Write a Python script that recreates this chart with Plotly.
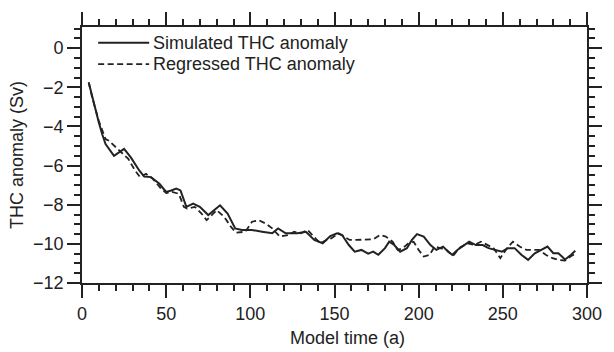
import plotly.graph_objects as go

# Simulated THC anomaly (solid)
sim_t = [4, 6, 8, 10, 12, 14, 19, 25, 29, 34,
         37, 41, 46, 50, 53, 56, 58.5, 62, 66, 70,
         75, 82, 86.5, 91, 95, 101, 107, 113, 116.5, 121,
         128, 133, 138, 143, 147.5, 151.5, 154.5, 158.5, 162, 166,
         170, 173, 176, 180, 182.5, 185.5, 189, 193, 196, 199,
         203, 207, 210.5, 214.5, 217.5, 220, 223, 226, 230, 234,
         238, 241.5, 245.5, 249.5, 253, 257, 261, 265, 269, 272.5,
         276.5, 280, 283, 287, 290, 293]
sim_v = [-1.75, -2.45, -3.2, -3.8, -4.4, -4.9, -5.5, -5.15, -5.58, -6.25,
         -6.56, -6.59, -6.93, -7.35, -7.27, -7.18, -7.27, -8.11, -7.94, -8.11,
         -8.53, -8.03, -8.45, -9.21, -9.29, -9.29, -9.38, -9.46, -9.21, -9.46,
         -9.46, -9.38, -9.8, -9.97, -9.6, -9.46, -9.55, -10.06, -10.4, -10.31,
         -10.5, -10.4, -10.56, -10.22, -9.89, -10.06, -10.4, -10.22, -9.8, -9.5,
         -9.63, -10.06, -10.31, -10.14, -10.4, -10.56, -10.31, -10.14, -9.89, -10.06,
         -10.06, -10.22, -10.31, -10.4, -10.22, -10.22, -10.56, -10.82, -10.48, -10.31,
         -10.14, -10.48, -10.48, -10.8, -10.6, -10.35]

# Regressed THC anomaly (dashed)
reg_t = [4, 6, 10, 14, 16, 20, 23.5, 27.5, 31.5, 34.5,
         38, 42, 47, 50, 53.5, 57.5, 60.5, 62.5, 67, 71,
         74, 80, 84.5, 88.5, 91.5, 97, 101, 105, 109, 113,
         117.5, 122.5, 126, 130, 134, 138, 141.5, 145.5, 148, 152.5,
         155.5, 159, 163, 168, 173, 177, 180.5, 184.5, 187.5, 190.5,
         194, 197, 200, 203, 206.5, 209.5, 213.5, 216.5, 220.5, 224,
         229, 233, 237, 240.5, 244.5, 248.5, 252.5, 256, 260, 264,
         268, 271.5, 275.5, 279.5, 283, 287, 291, 293.5]
reg_v = [-1.75, -2.5, -3.72, -4.65, -4.73, -5.07, -5.32, -5.66, -6.25, -6.59,
         -6.42, -6.67, -7.18, -7.4, -7.35, -7.44, -8.11, -8.2, -8.11, -8.45,
         -8.79, -8.28, -8.62, -9.13, -9.43, -9.38, -8.87, -8.79, -8.96, -9.21,
         -9.63, -9.55, -9.38, -9.46, -9.29, -9.63, -9.97, -9.8, -9.72, -9.46,
         -9.63, -9.8, -9.8, -9.8, -9.77, -9.55, -9.63, -9.89, -10.31, -10.22,
         -9.97, -9.89, -10.31, -10.65, -10.56, -10.14, -10.22, -10.31, -10.61, -10.22,
         -9.97, -10.06, -9.89, -10.06, -10.22, -10.73, -10.22, -9.89, -10.14, -10.31,
         -10.31, -10.31, -10.56, -10.73, -10.82, -10.85, -10.6, -10.5]

series_names = ["Simulated THC anomaly", "Regressed THC anomaly"]
x_title = "Model time (a)"
y_title = "THC anomaly (Sv)"

INK = "#222222"
FONT = "Liberation Sans, Arial, sans-serif"
DASH = "6px,3.5px"

fig = go.Figure()
fig.add_trace(go.Scatter(x=sim_t, y=sim_v, mode="lines", name=series_names[0],
                         line=dict(color=INK, width=2.0), showlegend=False))
fig.add_trace(go.Scatter(x=reg_t, y=reg_v, mode="lines", name=series_names[1],
                         line=dict(color=INK, width=1.8, dash=DASH), showlegend=False))

axis_common = dict(
    showgrid=False, zeroline=False, showline=True, linecolor=INK, linewidth=1.8,
    mirror="ticks", ticks="outside", ticklen=13, tickwidth=1.8, tickcolor=INK,
    tickfont=dict(family=FONT, size=18, color=INK),
)

fig.update_xaxes(range=[0, 300], tickvals=[0, 50, 100, 150, 200, 250, 300],
                 minor=dict(dtick=10, ticks="outside", ticklen=6, tickwidth=1.6, tickcolor=INK,
                            showgrid=False),
                 **axis_common)
fig.update_yaxes(range=[-12, 1.08], tickvals=[0, -2, -4, -6, -8, -10, -12],
                 minor=dict(dtick=0.5, ticks="outside", ticklen=6, tickwidth=1.6, tickcolor=INK,
                            showgrid=False),
                 title=dict(text=y_title, font=dict(family=FONT, size=18, color=INK), standoff=5),
                 **axis_common)

# custom legend
leg_x0, leg_x1 = 0.032, 0.133
for i, (nm, dash) in enumerate(zip(series_names, ["solid", DASH])):
    yy = 0.938 - i * 0.083
    fig.add_shape(type="line", xref="paper", yref="paper", x0=leg_x0, x1=leg_x1, y0=yy, y1=yy,
                  line=dict(color=INK, width=2.0 if i == 0 else 1.8, dash=dash))
    fig.add_annotation(xref="paper", yref="paper", x=leg_x1 + 0.003, y=yy, text=nm,
                       showarrow=False, xanchor="left", yanchor="middle",
                       font=dict(family=FONT, size=18, color=INK))

fig.add_annotation(xref="paper", yref="paper", x=0.526, y=-0.215, text=x_title,
                   showarrow=False, xanchor="center", yanchor="middle",
                   font=dict(family=FONT, size=18, color=INK))

fig.update_layout(width=614, height=352, margin=dict(l=82, r=15, t=25, b=69),
                  paper_bgcolor="white", plot_bgcolor="white")

fig.write_html("out.html")
